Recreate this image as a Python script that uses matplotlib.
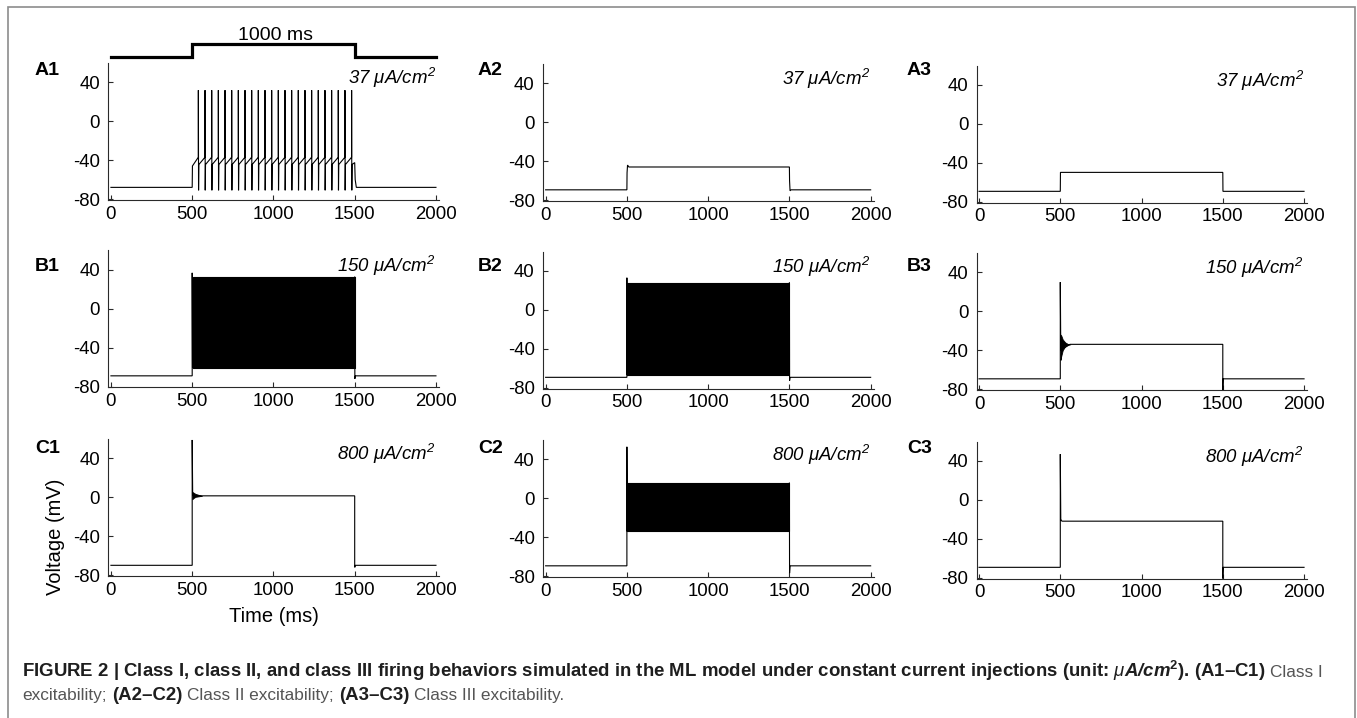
import matplotlib
matplotlib.use("Agg")
import matplotlib.pyplot as plt
from matplotlib.patches import Rectangle

plt.rcParams["font.family"] = ["Liberation Sans", "DejaVu Sans"]
plt.rcParams["axes.unicode_minus"] = False
plt.rcParams["mathtext.fontset"] = "custom"
plt.rcParams["mathtext.rm"] = "Liberation Sans:italic"
plt.rcParams["mathtext.it"] = "Liberation Sans:italic"
plt.rcParams["mathtext.bf"] = "Liberation Sans:bold:italic"
plt.rcParams["mathtext.sf"] = "Liberation Sans:bold"

# ---------------------------------------------------------------- data
x_ticks = [0, 500, 1000, 1500, 2000]
y_ticks = [-80, -40, 0, 40]
x_range = (-15, 2020)
y_range = (-81, 60)

# injected current step (arbitrary units) drawn above panel A1
stim_t = [0, 500, 1500, 2000]
stim_level = [0, 1, 0, 0]

currents = ["37", "150", "800"]          # µA/cm², one per row
panel_ids = [["A1", "A2", "A3"], ["B1", "B2", "B3"], ["C1", "C2", "C3"]]

# A1: class I repetitive firing
a1_rest = -68.0
a1_spike_times = [538, 579, 620, 661, 702, 743, 784, 825, 866, 907, 948, 989,
                  1030, 1071, 1112, 1153, 1194, 1235, 1276, 1317, 1358, 1399,
                  1440, 1481]
a1_onset_mv = -46.0
a1_threshold_mv = -37.0
a1_peak_mv = 32.0
a1_trough_mv = -71.0
a1_reset_mv = -44.5
a1_offset_mv = -42.5

# A2, A3: sub-threshold steps
a2_t = [0, 500, 501, 504, 512, 1500, 1501, 1504, 1510, 2000]
a2_v = [-69.5, -69.5, -52, -44, -46, -46, -60, -70.5, -69.5, -69.5]
a3_t = [0, 500, 501, 1500, 1501, 2000]
a3_v = [-69.5, -69.5, -50, -50, -69.5, -69.5]

# B1, B2, C2: sustained fast oscillation (drawn as its envelope)
b1_t = [0, 500, 500, 502, 1500, 1500, 1501, 1504, 2000]
b1_v = [-69, -69, 37, -60.5, -60.5, 33, -72, -69, -69]
b1_band_t = [502, 1500]
b1_band_hi = [33, 33]
b1_band_lo = [-60.5, -60.5]

b2_t = [0, 500, 500, 502, 1500, 1500, 1501, 1504, 2000]
b2_v = [-69.5, -69.5, 33, -67, -67, 28, -73, -69.5, -69.5]
b2_band_t = [502, 1500]
b2_band_hi = [28, 28]
b2_band_lo = [-67, -67]

c2_t = [0, 500, 500, 502, 1500, 1500, 1501, 1504, 2000]
c2_v = [-69.5, -69.5, 53, -34, -34, 16, -77, -69.5, -69.5]
c2_band_t = [502, 1500]
c2_band_hi = [16, 16]
c2_band_lo = [-34, -34]

# B3, C1, C3: single spike then damped ringing to a plateau
b3_t = [0, 500, 500, 503, 560, 1500, 1500, 1502, 1505, 2000]
b3_v = [-69.5, -69.5, 30, -40, -34, -34, -81, -69.5, -69.5, -69.5]
b3_ring_t = [501, 506, 515, 530, 545, 562]
b3_ring_hi = [-24, -25, -29, -32, -33.5, -34]
b3_ring_lo = [-50, -46, -40, -36, -34.5, -34]

c1_t = [0, 500, 500, 503, 560, 1500, 1500, 1501, 1504, 2000]
c1_v = [-70, -70, 59, 2, 1.5, 1.5, -72, -72, -70, -70]
c1_ring_t = [501, 506, 520, 540, 560]
c1_ring_hi = [5.5, 5, 3.5, 2.5, 1.5]
c1_ring_lo = [-2, -1, 0.5, 1, 1.5]

c3_t = [0, 500, 500, 503, 510, 1500, 1500, 1502, 1505, 2000]
c3_v = [-69.5, -69.5, 47, -20, -22, -22, -81, -69.5, -69.5, -69.5]

# ---------------------------------------------------------------- layout
W, H = 1357, 718
fig = plt.figure(figsize=(W / 100, H / 100), dpi=100)

col_left = [108.5, 543.2, 976.6]
col_drop = [0.0, 1.0, 2.5]
axes_w = 330.7
row_bottom = [200, 387.5, 576]
axes_h = 137.0

line_kw = dict(color="black", lw=0.8, solid_joinstyle="miter")


def px_axes(left, bottom, w, h):
    return fig.add_axes([left / W, 1 - bottom / H, w / W, h / H])


def style(ax):
    ax.set_xlim(*x_range)
    ax.set_ylim(*y_range)
    ax.set_xticks(x_ticks)
    ax.set_yticks(y_ticks)
    for s in ("top", "right"):
        ax.spines[s].set_visible(False)
    for s in ("left", "bottom"):
        ax.spines[s].set_color("#2a2a2a")
        ax.spines[s].set_linewidth(0.8)
    ax.tick_params(direction="in", length=3.5, width=0.8, color="#2a2a2a",
                   labelsize=13.4, labelcolor="black")
    ax.tick_params(axis="x", pad=4)
    ax.tick_params(axis="y", pad=6)
    ax.patch.set_alpha(0)


axes = [[None] * 3 for _ in range(3)]
for r in range(3):
    for c in range(3):
        ax = px_axes(col_left[c], row_bottom[r] + col_drop[c], axes_w, axes_h)
        style(ax)
        axes[r][c] = ax
        ax.text(2000, 38, r"$%s\ \mu A/cm^{2}$" % currents[r],
                ha="right", va="baseline", fontsize=13.4)

# A1 trace assembled from its spike times and levels
a1_t = [0, 500, 501.5]
a1_v = [a1_rest, a1_rest, a1_onset_mv]
for ts in a1_spike_times:
    a1_t += [ts - 0.3, ts, ts + 1.2, ts + 3]
    a1_v += [a1_threshold_mv, a1_peak_mv, a1_trough_mv, a1_reset_mv]
a1_t += [1500, 1503, 1510, 2000]
a1_v += [a1_offset_mv, -60, a1_rest, a1_rest]
axes[0][0].plot(a1_t, a1_v, **line_kw)

axes[0][1].plot(a2_t, a2_v, **line_kw)
axes[0][2].plot(a3_t, a3_v, **line_kw)

for ax, t, v, bt, hi, lo in [
        (axes[1][0], b1_t, b1_v, b1_band_t, b1_band_hi, b1_band_lo),
        (axes[1][1], b2_t, b2_v, b2_band_t, b2_band_hi, b2_band_lo),
        (axes[2][1], c2_t, c2_v, c2_band_t, c2_band_hi, c2_band_lo)]:
    ax.plot(t, v, **line_kw)
    ax.fill_between(bt, lo, hi, color="black", lw=0.8, edgecolor="black")

axes[1][2].plot(b3_t, b3_v, **line_kw)
axes[1][2].fill_between(b3_ring_t, b3_ring_lo, b3_ring_hi, color="black",
                        lw=0.6)
axes[2][0].plot(c1_t, c1_v, **line_kw)
axes[2][0].fill_between(c1_ring_t, c1_ring_lo, c1_ring_hi, color="black",
                        lw=0.6)
axes[2][2].plot(c3_t, c3_v, **line_kw)

# panel letters
label_x = [35, 478, 907]
label_y = [70.5, 267, 448.5]
for r in range(3):
    for c in range(3):
        fig.text(label_x[c] / W, 1 - label_y[r] / H, panel_ids[r][c],
                 fontsize=14, fontweight="bold", ha="left", va="center")

# axis titles on C1
fig.text(55.5 / W, 1 - 537 / H, "Voltage (mV)", rotation=90, fontsize=14.5,
         ha="center", va="center")
fig.text(274 / W, 1 - 622 / H, "Time (ms)", fontsize=14.5, ha="center",
         va="baseline")

# stimulus protocol above A1
stim_ax = px_axes(col_left[0], 62, axes_w, 32)
stim_ax.set_xlim(*x_range)
stim_ax.set_ylim(-5 / 13, 1 + 14 / 13)
stim_ax.step(stim_t, stim_level, where="post", color="black", lw=2.3,
             solid_joinstyle="miter")
stim_ax.text(1010, 1 + 4 / 13, "1000 ms", ha="center", va="baseline",
             fontsize=14)
stim_ax.axis("off")

# frame
fig.patches.append(Rectangle((7.5 / W, -0.1), (1354.5 - 7.5) / W,
                             1.1 - 7.5 / H, transform=fig.transFigure,
                             fill=False, edgecolor="#8c8c8c", lw=1.2))

# caption, written segment by segment and sized to the frame width
dark = "#1e1e1e"
grey = "#555555"
regular_scale = 0.93
line1 = [
    ("FIGURE 2 | Class I, class II, and class III firing behaviors simulated "
     "in the ML model under constant current injections (unit: "
     r"$\mu\mathbf{A/cm}^{\mathsf{2}}$). (A1–C1)", "bold", dark, False),
    ("Class I", "normal", grey, True),
]
line2 = [
    ("excitability;", "normal", grey, False),
    ("(A2–C2)", "bold", dark, True),
    ("Class II excitability;", "normal", grey, True),
    ("(A3–C3)", "bold", dark, True),
    ("Class III excitability.", "normal", grey, True),
]
renderer = fig.canvas.get_renderer()


def write_line(segments, base_y, size):
    x = 22.0
    made = []
    for txt, weight, col, gap in segments:
        s = size if weight == "bold" else size * regular_scale
        if gap:
            x += 0.278 * s * 100 / 72
        t = fig.text(x / W, 1 - base_y / H, txt, fontsize=s,
                     fontweight=weight, color=col, ha="left", va="baseline")
        made.append(t)
        x = t.get_window_extent(renderer).x1
    return made, x


probe, end_x = write_line(line1, 677, 12.0)
for t in probe:
    t.remove()
cap_size = 12.0 * (1320 - 22) / (end_x - 22)
write_line(line1, 677, cap_size)
write_line(line2, 700, cap_size)

fig.savefig("out.png", dpi=100)
